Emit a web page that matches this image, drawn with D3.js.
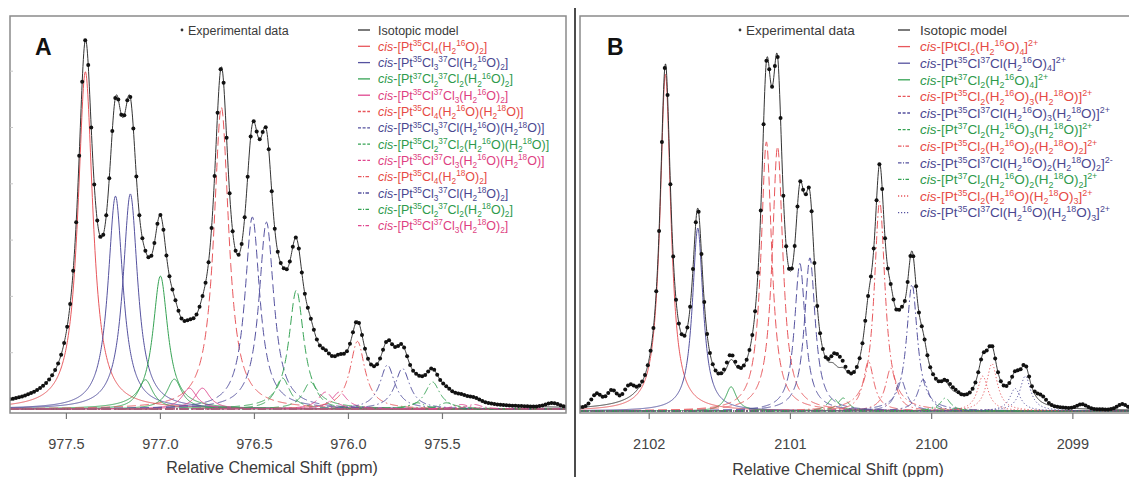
<!DOCTYPE html>
<html>
<head>
<meta charset="utf-8">
<script src="https://cdn.jsdelivr.net/npm/d3@7"></script>
<style>
  body { margin: 0; background: #fff; }
  svg { display: block; font-family: "Liberation Sans", Arial, sans-serif; }
</style>
</head>
<body>
<div id="chart"></div>
<script>
// Deconvolution of the 195Pt NMR multiplets: each isotopologue is a Lorentzian
// (centre in ppm, height in arbitrary units).

// ---- Panel A : cis-[PtCl4(H2O)2] ----
const ticksA = [977.5, 977.0, 976.5, 976.0, 975.5]
const labelsA = [
  "[Pt^{35}Cl_{4}(H_{2}^{16}O)_{2}]",
  "[Pt^{35}Cl_{3}^{37}Cl(H_{2}^{16}O)_{2}]",
  "[Pt^{37}Cl_{2}^{37}Cl_{2}(H_{2}^{16}O)_{2}]",
  "[Pt^{35}Cl^{37}Cl_{3}(H_{2}^{16}O)_{2}]",
  "[Pt^{35}Cl_{4}(H_{2}^{16}O)(H_{2}^{18}O)]",
  "[Pt^{35}Cl_{3}^{37}Cl(H_{2}^{16}O)(H_{2}^{18}O)]",
  "[Pt^{35}Cl_{2}^{37}Cl_{2}(H_{2}^{16}O)(H_{2}^{18}O)]",
  "[Pt^{35}Cl^{37}Cl_{3}(H_{2}^{16}O)(H_{2}^{18}O)]",
  "[Pt^{35}Cl_{4}(H_{2}^{18}O)_{2}]",
  "[Pt^{35}Cl_{3}^{37}Cl(H_{2}^{18}O)_{2}]",
  "[Pt^{35}Cl_{2}^{37}Cl_{2}(H_{2}^{18}O)_{2}]",
  "[Pt^{35}Cl^{37}Cl_{3}(H_{2}^{18}O)_{2}]",
]
const centersA = [
  [977.399],
  [977.239, 977.160],
  [977.080, 977.000, 976.926],
  [976.846, 976.777],
  [976.676],
  [976.511, 976.436],
  [976.351, 976.277, 976.202],
  [976.122, 976.048],
  [975.952],
  [975.793, 975.713],
  [975.633, 975.553, 975.479],
  [975.399, 975.330],
]
const heightsA = [
  [5.99],
  [3.78, 3.82],
  [0.52, 2.36, 0.53],
  [0.37, 0.37],
  [5.36],
  [3.41, 3.32],
  [0.55, 2.11, 0.48],
  [0.30, 0.30],
  [1.20],
  [0.78, 0.72],
  [0.11, 0.48, 0.11],
  [0.08, 0.08],
]
const widthA = 0.048            // half width at half maximum, ppm
const residA = [[974.915, 0.07]] // experimental excess over the model [ppm, height]

// ---- Panel B : cis-[PtCl2(H2O)4]2+ ----
const ticksB = [2102, 2101, 2100, 2099]
const labelsB = [
  "[PtCl_{2}(H_{2}^{16}O)_{4}]^{2+}",
  "[Pt^{35}Cl^{37}Cl(H_{2}^{16}O)_{4}]^{2+}",
  "[Pt^{37}Cl_{2}(H_{2}^{16}O)_{4}]^{2+}",
  "[Pt^{35}Cl_{2}(H_{2}^{16}O)_{3}(H_{2}^{18}O)]^{2+}",
  "[Pt^{35}Cl^{37}Cl(H_{2}^{16}O)_{3}(H_{2}^{18}O)]^{2+}",
  "[Pt^{37}Cl_{2}(H_{2}^{16}O)_{3}(H_{2}^{18}O)]^{2+}",
  "[Pt^{35}Cl_{2}(H_{2}^{16}O)_{2}(H_{2}^{18}O)_{2}]^{2+}",
  "[Pt^{35}Cl^{37}Cl(H_{2}^{16}O)_{2}(H_{2}^{18}O)_{2}]^{2-}",
  "[Pt^{37}Cl_{2}(H_{2}^{16}O)_{2}(H_{2}^{18}O)_{2}]^{2+}",
  "[Pt^{35}Cl_{2}(H_{2}^{16}O)(H_{2}^{18}O)_{3}]^{2+}",
  "[Pt^{35}Cl^{37}Cl(H_{2}^{16}O)(H_{2}^{18}O)_{3}]^{2+}",
]
const centersB = [
  [2101.885],
  [2101.656],
  [2101.420],
  [2101.170, 2101.091],
  [2100.933, 2100.862],
  [2100.697, 2100.626],
  [2100.447, 2100.368, 2100.289],
  [2100.218, 2100.139, 2100.060],
  [2099.981, 2099.903, 2099.824],
  [2099.638, 2099.573],
  [2099.409, 2099.337],
]
const heightsB = [
  [5.98],
  [3.25],
  [0.43],
  [4.78, 4.70],
  [2.62, 2.72],
  [0.23, 0.23],
  [0.88, 3.72, 0.76],
  [0.56, 2.25, 0.56],
  [0.07, 0.23, 0.05],
  [0.62, 0.84],
  [0.40, 0.62],
]
const widthB = 0.046
const residB = [
  [2102.372, 0.22], [2102.265, 0.24], [2102.143, 0.22],
  [2101.430, 0.10], [2100.669, 0.22], [2099.860, 0.06],
  [2099.222, 0.12], [2098.936, 0.08], [2098.650, 0.10],
]

// ---- styles (kept apart from the data) ----
const hue = { red: "#e8575c", blue: "#55529f", green: "#36a354", pink: "#e0478f" }
const textHue = { red: "#e64a45", blue: "#4a4790", green: "#2e9a4c", pink: "#de3f82" }
const dashes = { solid: null, dashed: "9,4", dashdot: "8,3,1.5,3", dotted: "1.2,2.2" }
const legendDashes = { solid: null, dashed: "3,1.6", dashdot: "3.5,1.5,1,1.5", dotted: "1.2,1.8" }
const styleA = labelsA.map((_, i) => ({
  col: ["red", "blue", "green", "pink"][i % 4],
  dash: ["solid", "dashed", "dashdot"][Math.floor(i / 4)],
}))
const styleB = labelsB.map((_, i) => ({
  col: ["red", "blue", "green"][i % 3],
  dash: ["solid", "dashed", "dashdot", "dotted"][Math.floor(i / 3)],
}))

const W = 1129, H = 477
const svg = d3.select("#chart").append("svg")
  .attr("width", W).attr("height", H).attr("viewBox", `0 0 ${W} ${H}`)

const lor = (p, c, h, w) => h / (1 + ((p - c) / w) ** 2)

// Texte chimique : ^{..} exposant, _{..} indice
function chem(textSel, str, size) {
  textSel.append("tspan").attr("font-style", "italic").text("cis")
  textSel.append("tspan").text("-")
  const parts = str.split(/(\^\{[^}]*\}|_\{[^}]*\})/).filter((s) => s)
  let cur = 0
  parts.forEach((p) => {
    let off = 0, txt = p, small = false
    if (p.startsWith("^{")) { off = -size * 0.38; txt = p.slice(2, -1); small = true }
    else if (p.startsWith("_{")) { off = size * 0.25; txt = p.slice(2, -1); small = true }
    textSel.append("tspan")
      .attr("dy", off - cur)
      .attr("font-size", small ? size * 0.66 : size)
      .text(txt)
    cur = off
  })
}

function panel(o) {
  const x = d3.scaleLinear().domain(o.domain).range([o.left, o.right])
  const y = d3.scaleLinear().domain([0, 7]).range([o.base, o.base - 7 * 56.3])
  const clipId = "clip" + o.name
  svg.append("clipPath").attr("id", clipId)
    .append("rect").attr("x", o.left).attr("y", o.top)
    .attr("width", o.right - o.left).attr("height", o.bottom - o.top)

  // une courbe par pic (les isomères sont tracés séparément)
  const peaks = []
  o.centers.forEach((cs, i) => cs.forEach((c, k) => peaks.push({ i, c, h: o.heights[i][k] })))
  const model = (p) => d3.sum(peaks, (d) => lor(p, d.c, d.h, o.width))
  const resid = (p) => d3.sum(o.resid, (r) => r[1] * Math.exp(-0.5 * ((p - r[0]) / 0.035) ** 2))

  const grid = d3.range(o.domain[0], o.domain[1], -0.002)
  const plot = svg.append("g").attr("clip-path", `url(#${clipId})`)
  const line = d3.line().x((d) => x(d[0])).y((d) => y(d[1]))

  plot.selectAll("path.comp")
    .data(peaks)
    .join("path")
    .attr("class", "comp")
    .attr("fill", "none")
    .attr("stroke", (d) => hue[o.style[d.i].col])
    .attr("stroke-width", 1)
    .attr("stroke-dasharray", (d) => dashes[o.style[d.i].dash])
    .attr("d", (d) => line(grid.map((p) => [p, lor(p, d.c, d.h, o.width)])))

  plot.append("path")
    .attr("fill", "none").attr("stroke", "#333").attr("stroke-width", 1)
    .attr("d", line(grid.map((p) => [p, model(p)])))

  const exp = d3.range(o.domain[0], o.domain[1] - 0.01, -o.step)
    .map((p) => [p, model(p) + resid(p)])
  plot.selectAll("circle.exp")
    .data(exp)
    .join("circle")
    .attr("class", "exp")
    .attr("cx", (d) => x(d[0])).attr("cy", (d) => y(d[1]))
    .attr("r", 2).attr("fill", "#111")

  // cadre
  svg.append("rect")
    .attr("x", o.left).attr("y", o.top)
    .attr("width", o.right - o.left).attr("height", o.bottom - o.top)
    .attr("fill", "none").attr("stroke", "#8a8a8a").attr("stroke-width", 1.5)

  // axe x
  const ax = svg.append("g").attr("transform", `translate(0,${o.bottom})`)
  ax.selectAll("line").data(o.ticks).join("line")
    .attr("x1", (d) => x(d)).attr("x2", (d) => x(d))
    .attr("y1", 0).attr("y2", 6)
    .attr("stroke", "#777").attr("stroke-width", 1.2)
  ax.selectAll("text").data(o.ticks).join("text")
    .attr("x", (d) => x(d)).attr("y", 36)
    .attr("text-anchor", "middle").attr("font-size", 14.5).attr("fill", "#444")
    .text((d) => o.fmt(d))

  svg.append("text")
    .attr("x", o.titleX).attr("y", o.titleY)
    .attr("text-anchor", "middle").attr("font-size", 16).attr("fill", "#3a3a3a")
    .text("Relative Chemical Shift (ppm)")

  if (o.yticks) {
    svg.append("g").selectAll("line").data([1, 2, 3, 4, 5, 6]).join("line")
      .attr("x1", o.left).attr("x2", o.left + 3)
      .attr("y1", (d) => y(d)).attr("y2", (d) => y(d))
      .attr("stroke", "#c8c8c8").attr("stroke-width", 1)
  }

  // lettre du panneau
  svg.append("text")
    .attr("x", o.letterX).attr("y", 55)
    .attr("font-size", 23).attr("font-weight", 700).attr("fill", "#111")
    .text(o.name)

  // légende
  const lg = svg.append("g").attr("font-size", o.fs)
  lg.append("circle").attr("cx", o.expX).attr("cy", 30).attr("r", 1.4).attr("fill", "#333")
  lg.append("text").attr("x", o.expX + 6).attr("y", 30 + o.fs * 0.36)
    .attr("fill", "#3a3a3a").text("Experimental data")
  lg.append("line").attr("x1", o.symX).attr("x2", o.symX + 12)
    .attr("y1", 30).attr("y2", 30).attr("stroke", "#333").attr("stroke-width", 1.3)
  lg.append("text").attr("x", o.txtX).attr("y", 30 + o.fs * 0.36)
    .attr("fill", "#3a3a3a").text("Isotopic model")

  o.labels.forEach((lab, i) => {
    const cy = 30 + o.rowH * (i + 1)
    const st = o.style[i]
    lg.append("line").attr("x1", o.symX).attr("x2", o.symX + 12)
      .attr("y1", cy).attr("y2", cy)
      .attr("stroke", hue[st.col]).attr("stroke-width", 1.3)
      .attr("stroke-dasharray", legendDashes[st.dash])
    const t = lg.append("text").attr("x", o.txtX).attr("y", cy + o.fs * 0.36)
      .attr("fill", textHue[st.col])
    chem(t, lab, o.fs)
  })
}

panel({
  name: "A", domain: [977.80, 974.843], left: 10, right: 566, top: 16, bottom: 413,
  base: 409, centers: centersA, heights: heightsA, width: widthA, resid: residA,
  style: styleA, labels: labelsA, ticks: ticksA, fmt: d3.format(".1f"), step: 0.016,
  titleX: 272, titleY: 473, letterX: 35, yticks: true,
  fs: 12.5, rowH: 16.3, expX: 182, symX: 358, txtX: 378,
})

panel({
  name: "B", domain: [2102.49, 2098.56], left: 580, right: 1135, top: 16, bottom: 413,
  base: 411, centers: centersB, heights: heightsB, width: widthB, resid: residB,
  style: styleB, labels: labelsB, ticks: ticksB, fmt: d3.format("d"), step: 0.02,
  titleX: 838, titleY: 475, letterX: 607, yticks: false,
  fs: 13.5, rowH: 16.6, expX: 740, symX: 898, txtX: 920,
})

// séparateur vertical
svg.append("line").attr("x1", 575).attr("x2", 575).attr("y1", 8).attr("y2", H)
  .attr("stroke", "#111").attr("stroke-width", 1.5)
</script>
</body>
</html>
